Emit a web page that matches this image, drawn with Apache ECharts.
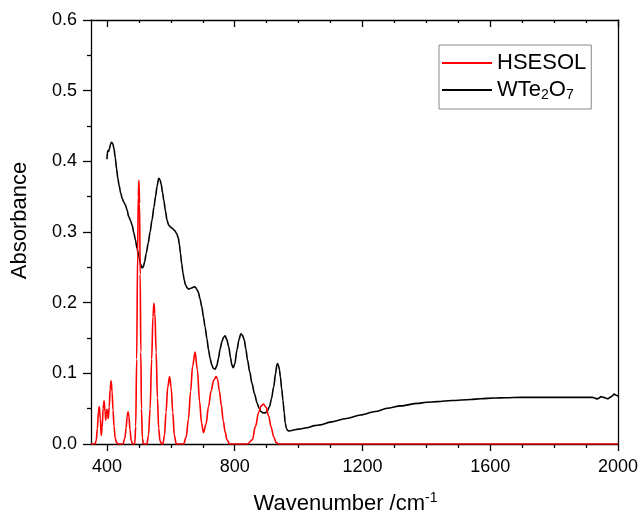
<!DOCTYPE html>
<html>
<head>
<meta charset="utf-8">
<script src="https://cdn.jsdelivr.net/npm/echarts@6/dist/echarts.min.js"></script>
<style>html,body{margin:0;padding:0;background:#fff}#c{width:640px;height:512px}</style>
</head>
<body>
<div id="c"></div>
<script>
// ---- data ----
var xMajorTicks = [400, 800, 1200, 1600, 2000];
var xMinorTicks = [500, 600, 700, 900, 1000, 1100, 1300, 1400, 1500, 1700, 1800, 1900];
var seriesNames = ['HSESOL', 'WTe2O7'];

var hsesolWn = [350, 362, 366, 370, 373, 376, 379, 382, 385, 388, 391, 394, 396, 398, 400, 402, 404, 407, 410, 413, 416, 419, 422, 426, 430, 435,
  450, 456, 460, 463, 466, 469, 472, 476, 480,
  487, 490, 493, 496, 498, 500, 502, 504, 506, 508, 511, 514,
  525, 530, 535, 540, 544, 547, 550, 554, 558, 562, 566, 572,
  575, 580, 585, 590, 596, 601, 606, 611, 617,
  640, 648, 655, 662, 668, 676, 683, 690, 696, 702, 710, 718, 726, 734, 742, 746, 752, 758, 764, 770, 776, 784,
  840, 855, 865, 875, 883, 890, 898, 906, 914, 922, 930, 938, 2000];
var hsesolAbs = [0, 0, 0.004, 0.022, 0.045, 0.053, 0.036, 0.012, 0.024, 0.050, 0.061, 0.046, 0.034, 0.042, 0.049, 0.042, 0.036, 0.052, 0.078, 0.0896, 0.074, 0.048, 0.025, 0.008, 0.002, 0,
  0, 0.008, 0.023, 0.038, 0.0457, 0.038, 0.020, 0.005, 0,
  0, 0.025, 0.12, 0.27, 0.35, 0.373, 0.34, 0.24, 0.13, 0.05, 0.008, 0,
  0, 0.012, 0.05, 0.12, 0.18, 0.199, 0.185, 0.13, 0.065, 0.022, 0.004, 0,
  0, 0.012, 0.045, 0.080, 0.0953, 0.080, 0.045, 0.012, 0,
  0, 0.010, 0.035, 0.075, 0.110, 0.130, 0.105, 0.060, 0.030, 0.016, 0.028, 0.053, 0.075, 0.090, 0.0953, 0.092, 0.075, 0.055, 0.033, 0.017, 0.006, 0,
  0, 0.006, 0.025, 0.045, 0.054, 0.0566, 0.052, 0.040, 0.024, 0.010, 0.002, 0, 0];

var wte2o7Wn = [400, 402, 405, 408, 411, 414, 418, 422, 426, 430, 434, 438, 443, 448, 453, 458, 463, 468, 474, 479, 484, 489, 494, 500, 505, 510, 514, 518, 523, 529, 535, 541, 547, 552, 557, 562, 566, 570, 574, 578, 583, 588, 593, 599, 605, 612, 618, 623, 627, 630, 634, 638, 642, 646, 651, 656, 661, 666, 671, 676, 681, 686, 691, 697, 702, 707, 713, 718, 723, 728, 733, 739, 744, 749, 754, 760, 765, 770, 775, 781, 787, 791, 795, 800, 807, 813, 819, 824, 830, 835, 840, 847, 854, 862, 870, 876, 882, 889, 896, 902, 909, 915, 922, 928, 932, 934, 937, 940, 943, 947, 951, 955, 958, 962, 966, 970, 978, 985, 1000, 1026, 1050, 1068, 1100, 1150, 1194, 1240, 1277, 1320, 1372, 1400, 1434, 1480, 1539, 1570, 1612, 1650, 1696, 1750, 1800, 1850, 1900, 1920, 1928, 1934, 1940, 1947, 1955, 1962, 1968, 1975, 1982, 1988, 1994, 2000];
var wte2o7Abs = [0.403, 0.415, 0.414, 0.418, 0.424, 0.427, 0.425, 0.418, 0.405, 0.390, 0.376, 0.366, 0.355, 0.347, 0.342, 0.338, 0.331, 0.322, 0.316, 0.309, 0.299, 0.289, 0.277, 0.265, 0.255, 0.249, 0.251, 0.258, 0.270, 0.284, 0.300, 0.317, 0.335, 0.350, 0.365, 0.376, 0.374, 0.367, 0.356, 0.345, 0.330, 0.317, 0.310, 0.307, 0.305, 0.302, 0.298, 0.292, 0.282, 0.270, 0.255, 0.242, 0.232, 0.225, 0.221, 0.219, 0.220, 0.221, 0.222, 0.2226, 0.219, 0.215, 0.206, 0.194, 0.180, 0.166, 0.149, 0.133, 0.121, 0.112, 0.107, 0.106, 0.111, 0.121, 0.134, 0.145, 0.151, 0.153, 0.148, 0.138, 0.122, 0.112, 0.108, 0.113, 0.133, 0.147, 0.156, 0.154, 0.147, 0.134, 0.119, 0.102, 0.086, 0.071, 0.058, 0.051, 0.046, 0.044, 0.044, 0.047, 0.053, 0.064, 0.081, 0.100, 0.112, 0.114, 0.111, 0.105, 0.095, 0.078, 0.062, 0.044, 0.030, 0.022, 0.019, 0.0185, 0.019, 0.0198, 0.021, 0.023, 0.026, 0.027, 0.031, 0.036, 0.041, 0.046, 0.0505, 0.054, 0.0575, 0.059, 0.060, 0.0615, 0.063, 0.064, 0.065, 0.0655, 0.066, 0.066, 0.066, 0.066, 0.066, 0.066, 0.065, 0.0637, 0.065, 0.067, 0.066, 0.065, 0.064, 0.066, 0.068, 0.0707, 0.069, 0.068];

function pairs(xs, ys) { return xs.map(function (x, i) { return [x, ys[i]]; }); }

var FONT = 'Arial, "Liberation Sans", sans-serif';
var chart = echarts.init(document.getElementById('c'), null, { renderer: 'canvas' });
var axisLineStyle = { color: '#000', width: 1.3 };
var baseX = { type: 'value', min: 350, max: 2000, splitLine: { show: false } };

chart.setOption({
  animation: false,
  backgroundColor: '#fff',
  grid: { left: 91, right: 22, top: 20, bottom: 68, containLabel: false, outerBoundsMode: 'none' },
  legend: {
    left: 439, top: 45, orient: 'vertical',
    data: seriesNames,
    borderColor: '#888', borderWidth: 1, borderRadius: 0,
    padding: [7, 5, 7, 3], itemGap: 5, itemWidth: 50, itemHeight: 2,
    icon: 'rect',
    textStyle: { fontFamily: FONT, fontSize: 22, color: '#000',
      rich: { s: { fontFamily: FONT, fontSize: 14, color: '#000', padding: [10, 0, 0, 0] } } },
    formatter: function (n) { return n === 'WTe2O7' ? 'WTe{s|2}O{s|7}' : n; }
  },
  xAxis: [
    Object.assign({}, baseX, {
      position: 'bottom',
      name: 'Wavenumber /cm{sup|-1}', nameLocation: 'middle', nameGap: 47,
      nameTextStyle: { fontFamily: FONT, fontSize: 22, color: '#000', padding: [0, 18, 0, 0],
        rich: { sup: { fontFamily: FONT, fontSize: 14, color: '#000', padding: [0, 0, 11, 0] } } },
      axisLine: { show: true, lineStyle: axisLineStyle },
      axisTick: { show: true, inside: false, length: 7, customValues: xMajorTicks, lineStyle: axisLineStyle },
      axisLabel: { show: true, customValues: xMajorTicks, margin: 14, fontFamily: FONT, fontSize: 18, color: '#000',
        formatter: function (v) { return String(v); } }
    }),
    Object.assign({}, baseX, {
      position: 'bottom',
      axisLine: { show: false },
      axisTick: { show: true, inside: false, length: 4, customValues: xMinorTicks, lineStyle: axisLineStyle },
      axisLabel: { show: false }
    }),
    Object.assign({}, baseX, {
      position: 'top',
      axisLine: { show: true, lineStyle: axisLineStyle },
      axisTick: { show: true, inside: true, length: 7, customValues: xMajorTicks, lineStyle: axisLineStyle },
      axisLabel: { show: false }
    }),
    Object.assign({}, baseX, {
      position: 'top',
      axisLine: { show: false },
      axisTick: { show: true, inside: true, length: 3, customValues: xMinorTicks, lineStyle: axisLineStyle },
      axisLabel: { show: false }
    })
  ],
  yAxis: [
    {
      type: 'value', min: 0, max: 0.6, interval: 0.1, position: 'left',
      name: 'Absorbance', nameLocation: 'middle', nameGap: 60, nameRotate: 90,
      nameTextStyle: { fontFamily: FONT, fontSize: 22, color: '#000', padding: [0, 0, 0, 23] },
      splitLine: { show: false },
      axisLine: { show: true, lineStyle: axisLineStyle },
      axisTick: { show: true, inside: false, length: 8, lineStyle: axisLineStyle },
      minorTick: { show: true, splitNumber: 2, length: 4, lineStyle: axisLineStyle },
      axisLabel: { margin: 14, fontFamily: FONT, fontSize: 18, color: '#000',
        formatter: function (v) { return v.toFixed(1); } }
    },
    {
      type: 'value', min: 0, max: 0.6, interval: 0.1, position: 'right',
      splitLine: { show: false },
      axisLine: { show: true, lineStyle: axisLineStyle },
      axisTick: { show: false }, axisLabel: { show: false }
    }
  ],
  series: [
    {
      name: 'HSESOL', type: 'line', xAxisIndex: 0, yAxisIndex: 0, z: 3,
      data: pairs(hsesolWn, hsesolAbs), showSymbol: false, symbol: 'none',
      smooth: 0.35, smoothMonotone: 'x',
      lineStyle: { color: '#ff0000', width: 1.6 }, itemStyle: { color: '#ff0000' }
    },
    {
      name: 'WTe2O7', type: 'line', xAxisIndex: 0, yAxisIndex: 0, z: 2,
      data: pairs(wte2o7Wn, wte2o7Abs), showSymbol: false, symbol: 'none',
      smooth: 0.3, smoothMonotone: 'x',
      lineStyle: { color: '#000000', width: 1.6 }, itemStyle: { color: '#000000' }
    }
  ]
});
</script>
</body>
</html>
